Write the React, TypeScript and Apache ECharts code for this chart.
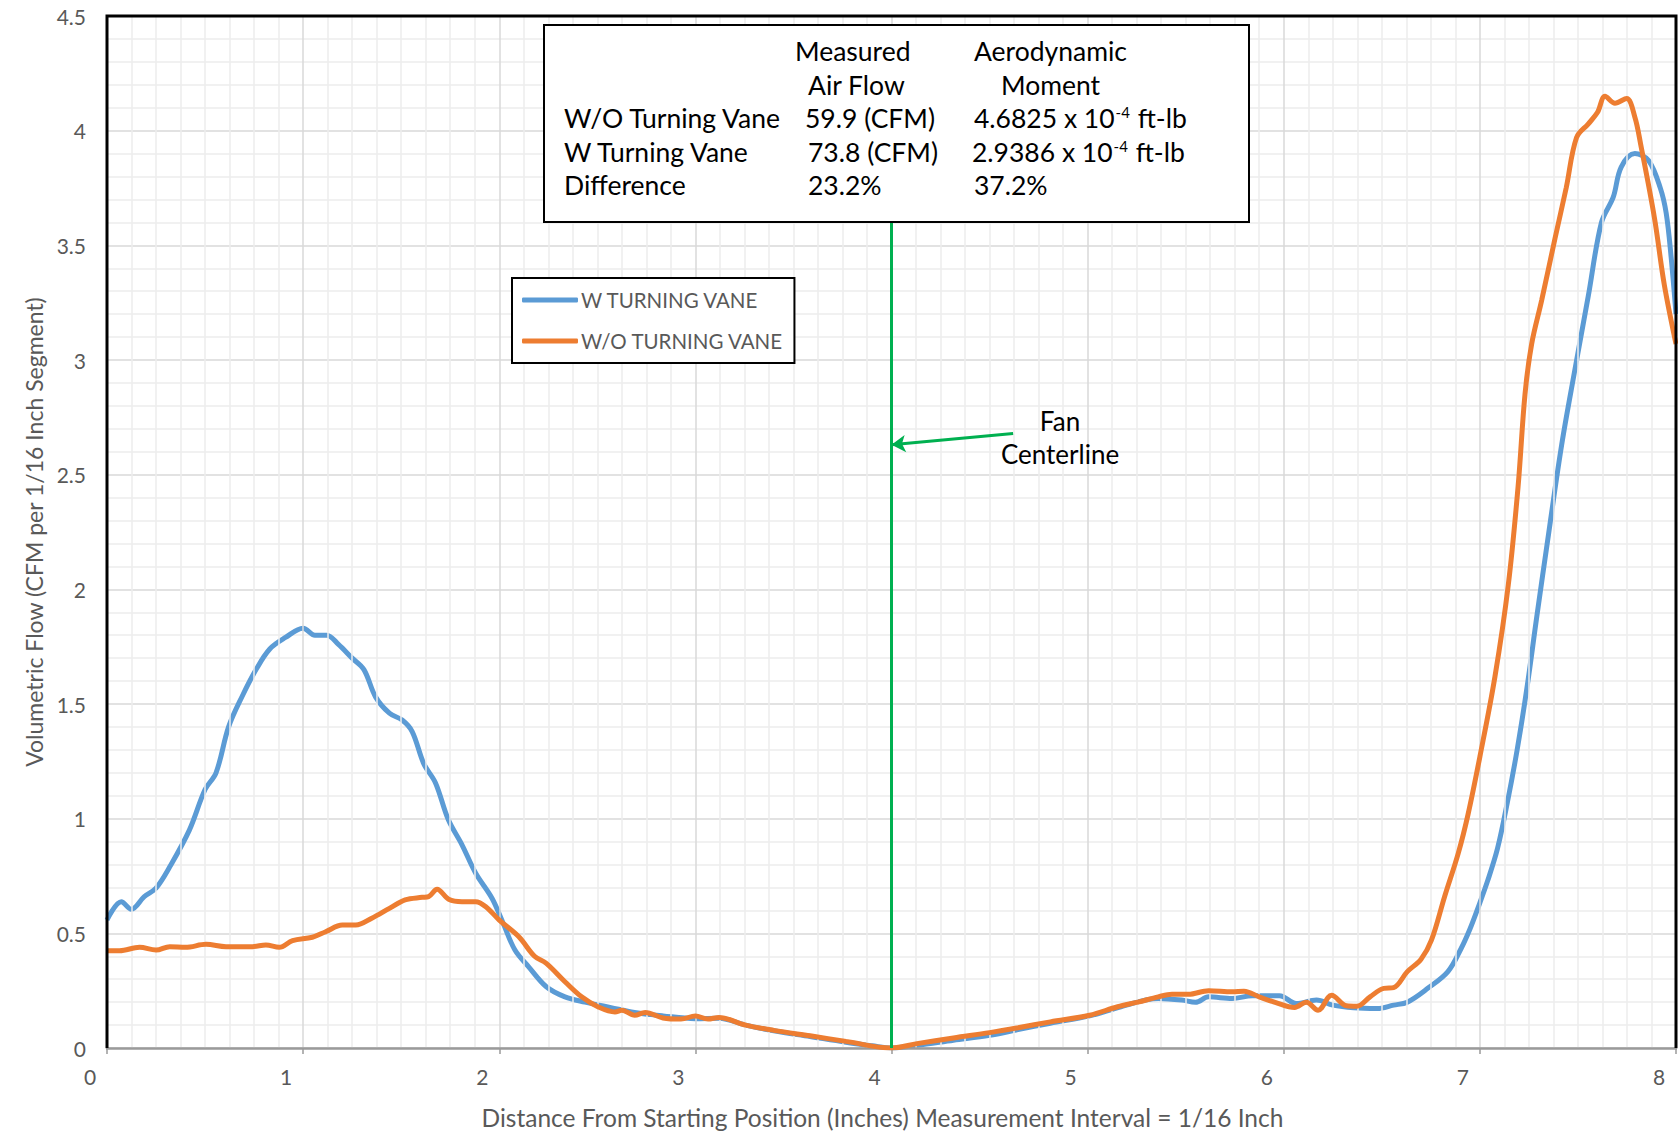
import React, { useEffect, useRef } from "react";
import * as echarts from "echarts";

// W TURNING VANE (blue)
const wX = [0, 0.073, 0.124, 0.19, 0.25, 0.32, 0.42, 0.5, 0.556, 0.62, 0.69, 0.76, 0.83, 0.91, 1.0, 1.06, 1.12, 1.18, 1.25, 1.31, 1.37, 1.44, 1.505, 1.556, 1.615, 1.675, 1.74, 1.81, 1.88, 1.963, 2.02, 2.08, 2.15, 2.24, 2.335, 2.437, 2.57, 2.69, 2.835, 3.0, 3.12, 3.256, 3.4, 3.585, 3.768, 3.9, 4.0, 4.13, 4.316, 4.5, 4.645, 4.81, 5.01, 5.17, 5.36, 5.48, 5.55, 5.617, 5.737, 5.84, 5.978, 6.064, 6.167, 6.25, 6.356, 6.476, 6.56, 6.63, 6.734, 6.837, 6.905, 6.95, 6.99, 7.04, 7.09, 7.14, 7.19, 7.24, 7.29, 7.35, 7.417, 7.485, 7.553, 7.62, 7.68, 7.72, 7.79, 7.86, 7.92, 7.95, 7.975, 8.0];
const wY = [0.558, 0.638, 0.605, 0.66, 0.697, 0.79, 0.95, 1.127, 1.2, 1.4, 1.535, 1.65, 1.74, 1.79, 1.83, 1.8, 1.8, 1.76, 1.7, 1.65, 1.53, 1.46, 1.43, 1.38, 1.24, 1.156, 0.996, 0.886, 0.762, 0.653, 0.544, 0.427, 0.354, 0.267, 0.223, 0.2, 0.176, 0.155, 0.14, 0.128, 0.13, 0.1, 0.075, 0.05, 0.025, 0.01, 0.0, 0.012, 0.034, 0.055, 0.08, 0.108, 0.14, 0.18, 0.216, 0.209, 0.199, 0.223, 0.216, 0.228, 0.228, 0.194, 0.209, 0.187, 0.175, 0.172, 0.187, 0.2, 0.26, 0.333, 0.435, 0.52, 0.61, 0.73, 0.87, 1.07, 1.3, 1.57, 1.88, 2.24, 2.63, 2.96, 3.28, 3.6, 3.71, 3.84, 3.9, 3.87, 3.75, 3.64, 3.45, 3.2];

// W/O TURNING VANE (orange)
const woX = [0, 0.064, 0.166, 0.25, 0.32, 0.4, 0.505, 0.607, 0.742, 0.81, 0.878, 0.946, 1.047, 1.115, 1.2, 1.268, 1.35, 1.44, 1.52, 1.607, 1.64, 1.683, 1.742, 1.81, 1.88, 1.93, 2.0, 2.1, 2.18, 2.24, 2.335, 2.42, 2.505, 2.59, 2.625, 2.69, 2.744, 2.835, 2.927, 3.0, 3.064, 3.12, 3.256, 3.4, 3.585, 3.768, 4.0, 4.13, 4.316, 4.5, 4.645, 4.81, 5.01, 5.153, 5.256, 5.36, 5.43, 5.514, 5.617, 5.737, 5.797, 5.875, 5.96, 6.055, 6.115, 6.175, 6.244, 6.32, 6.373, 6.44, 6.51, 6.56, 6.63, 6.7, 6.753, 6.82, 6.89, 6.94, 7.0, 7.077, 7.145, 7.195, 7.23, 7.264, 7.315, 7.383, 7.44, 7.493, 7.553, 7.6, 7.638, 7.689, 7.748, 7.79, 7.82, 7.89, 7.94, 8.0];
const woY = [0.424, 0.424, 0.439, 0.427, 0.442, 0.439, 0.452, 0.442, 0.442, 0.449, 0.439, 0.468, 0.483, 0.507, 0.536, 0.536, 0.566, 0.609, 0.646, 0.657, 0.66, 0.692, 0.649, 0.638, 0.638, 0.617, 0.558, 0.485, 0.4, 0.369, 0.289, 0.223, 0.179, 0.157, 0.165, 0.143, 0.155, 0.131, 0.126, 0.14, 0.126, 0.133, 0.1, 0.077, 0.053, 0.029, 0.0, 0.019, 0.044, 0.067, 0.088, 0.114, 0.143, 0.18, 0.2, 0.223, 0.234, 0.234, 0.25, 0.245, 0.248, 0.223, 0.198, 0.177, 0.2, 0.165, 0.23, 0.184, 0.182, 0.223, 0.26, 0.263, 0.333, 0.387, 0.47, 0.66, 0.85, 1.02, 1.27, 1.62, 2.02, 2.45, 2.85, 3.07, 3.26, 3.53, 3.75, 3.97, 4.03, 4.08, 4.15, 4.12, 4.14, 4.06, 3.94, 3.62, 3.33, 3.07];

const seriesNames = ["W TURNING VANE", "W/O TURNING VANE"];
const xMin = 0, xMax = 8, xStep = 1;
const yMin = 0, yMax = 4.5, yStep = 0.5;

const fanCenterline = 4.0;
const centerlineTop = 4.2;
const arrowFrom = [4.62, 2.68];
const arrowTo = [4.0, 2.63];

const tableHead1 = ["Measured", "Aerodynamic"];
const tableHead2 = ["Air Flow", "Moment"];
const tableRows = [
  ["W/O Turning Vane", "59.9 (CFM)", "4.6825", "-4"],
  ["W Turning Vane", "73.8 (CFM)", "2.9386", "-4"],
  ["Difference", "23.2%", "37.2%", ""],
];

const FONT = "Lato, 'Open Sans', sans-serif";
const W = 1678, H = 1138;
const G = { left: 107, right: 2, top: 16, bottom: 90 };

export default function App() {
  const ref = useRef<HTMLDivElement>(null);
  useEffect(() => {
    if (!ref.current) return;
    const chart = echarts.init(ref.current, undefined, { renderer: "svg" });
    const gx0 = G.left, gx1 = W - G.right, gy0 = G.top, gy1 = H - G.bottom;

    const tableX = 544, tableY = 25, tableW = 705, tableH = 197;
    const rowY = [51, 85, 118, 152, 185];
    const c1 = 564, c2 = 808, c3 = 974;
    const tfs = 26.5;
    const txt = (text: string, x: number, y: number) => ({
      type: "text",
      x,
      y,
      z: 21,
      style: {
        text,
        font: `${tfs}px ${FONT}`,
        fill: "#000",
        verticalAlign: "middle",
      },
    });
    const richVal = (mant: string, exp: string, x: number, y: number) => ({
      type: "text",
      x,
      y,
      z: 21,
      style: {
        text: exp ? `{a|${mant} x 10}{s|${exp}}{a| ft-lb}` : `{a|${mant}}`,
        verticalAlign: "middle",
        rich: {
          a: { fontSize: tfs, fontFamily: FONT, fill: "#000", color: "#000" },
          s: { fontSize: 15, fontFamily: FONT, fill: "#000", color: "#000", verticalAlign: "top", padding: [0, 1, 11, 1] },
        },
      },
    });

    const tableEls: any[] = [
      {
        type: "rect",
        z: 20,
        shape: { x: tableX, y: tableY, width: tableW, height: tableH },
        style: { fill: "#fff", stroke: "#000", lineWidth: 2 },
      },
      txt(tableHead1[0], c2 - 13, rowY[0]),
      txt(tableHead1[1], c3, rowY[0]),
      txt(tableHead2[0], c2, rowY[1]),
      txt(tableHead2[1], c3 + 27, rowY[1]),
    ];
    tableRows.forEach((r, i) => {
      const y = rowY[2 + i];
      tableEls.push(txt(r[0], c1, y));
      tableEls.push(txt(r[1], c2 + (i === 0 ? -3 : 0), y));
      tableEls.push(richVal(r[2], r[3], c3 + (i === 1 ? -2 : 0), y));
    });

    const option: any = {
      animation: false,
      textStyle: { fontFamily: FONT },
      grid: { left: G.left, right: G.right, top: G.top, bottom: G.bottom, show: false },
      legend: {
        data: seriesNames,
        orient: "vertical",
        left: 512,
        top: 278,
        padding: [11, 11, 11, 10],
        itemGap: 19,
        itemWidth: 56,
        itemHeight: 5,
        icon: "roundRect",
        backgroundColor: "#fff",
        borderColor: "#000",
        borderWidth: 2,
        borderRadius: 0,
        z: 20,
        textStyle: { color: "#595959", fontSize: 20.5, fontFamily: FONT, lineHeight: 22, padding: [0, 0, 0, -2] },
      },
      xAxis: {
        type: "value",
        min: xMin,
        max: xMax,
        interval: xStep,
        name: "Distance From Starting Position (Inches) Measurement Interval = 1/16 Inch",
        nameLocation: "middle",
        nameGap: 57,
        nameTextStyle: { color: "#595959", fontSize: 24.5, fontFamily: FONT, padding: [0, 18, 0, 0] },
        axisLine: { show: true, lineStyle: { color: "#9a9a9a", width: 2.5 } },
        axisTick: { show: true, length: 6, lineStyle: { color: "#9a9a9a", width: 1.5 } },
        axisLabel: { color: "#595959", fontSize: 21, fontFamily: FONT, margin: 18, padding: [0, 34, 0, 0], showMinLabel: true, showMaxLabel: true },
        splitLine: { show: true, lineStyle: { color: "#d9d9d9", width: 1.5 } },
        minorTick: { show: false, splitNumber: 8 },
        minorSplitLine: { show: true, lineStyle: { color: "#ededed", width: 1.5 } },
        z: 3,
      },
      yAxis: {
        type: "value",
        min: yMin,
        max: yMax,
        interval: yStep,
        name: "Volumetric Flow (CFM per 1/16 Inch Segment)",
        nameLocation: "middle",
        nameGap: 61,
        nameTextStyle: { color: "#595959", fontSize: 23, fontFamily: FONT },
        axisLine: { show: false },
        axisTick: { show: false },
        axisLabel: { color: "#595959", fontSize: 21, fontFamily: FONT, margin: 21 },
        splitLine: { show: true, lineStyle: { color: "#d9d9d9", width: 1.5 } },
        minorTick: { show: false, splitNumber: 5 },
        minorSplitLine: { show: true, lineStyle: { color: "#ededed", width: 1.5 } },
      },
      series: [
        {
          name: seriesNames[0],
          type: "line",
          data: wX.map((x, i) => [x, wY[i]]),
          smooth: 0.35,
          showSymbol: false,
          symbol: "none",
          color: "#5b9bd5",
          lineStyle: { color: "#5b9bd5", width: 5 },
          z: 2,
          markLine: {
            silent: true,
            symbol: ["none", "none"],
            label: { show: false },
            lineStyle: { color: "#00b050", width: 3, type: "solid" },
            data: [[{ coord: [fanCenterline, yMin] }, { coord: [fanCenterline, centerlineTop] }]],
          },
        },
        {
          name: seriesNames[1],
          type: "line",
          data: woX.map((x, i) => [x, woY[i]]),
          smooth: 0.35,
          showSymbol: false,
          symbol: "none",
          color: "#ed7d31",
          lineStyle: { color: "#ed7d31", width: 5 },
          z: 3,
          markLine: {
            silent: true,
            symbol: ["none", "arrow"],
            symbolSize: [13, 14],
            label: { show: false },
            lineStyle: { color: "#00b050", width: 3, type: "solid" },
            data: [[{ coord: arrowFrom }, { coord: arrowTo }]],
          },
        },
      ],
      graphic: [
        {
          type: "polyline",
          z: 10,
          silent: true,
          shape: { points: [[gx0, gy1], [gx0, gy0], [gx1, gy0], [gx1, gy1]] },
          style: { stroke: "#000", lineWidth: 3, fill: "none" },
        },
        {
          type: "text",
          x: 1060,
          y: 421,
          z: 15,
          style: { text: "Fan", font: `26px ${FONT}`, fill: "#000", align: "center", verticalAlign: "middle" },
        },
        {
          type: "text",
          x: 1060,
          y: 454,
          z: 15,
          style: { text: "Centerline", font: `26px ${FONT}`, fill: "#000", align: "center", verticalAlign: "middle" },
        },
        ...tableEls,
      ],
    };
    chart.setOption(option);
    return () => chart.dispose();
  }, []);
  return (
    <div
      ref={ref}
      style={{ position: "absolute", left: 0, top: 0, width: W, height: H, background: "#fff" }}
    />
  );
}
